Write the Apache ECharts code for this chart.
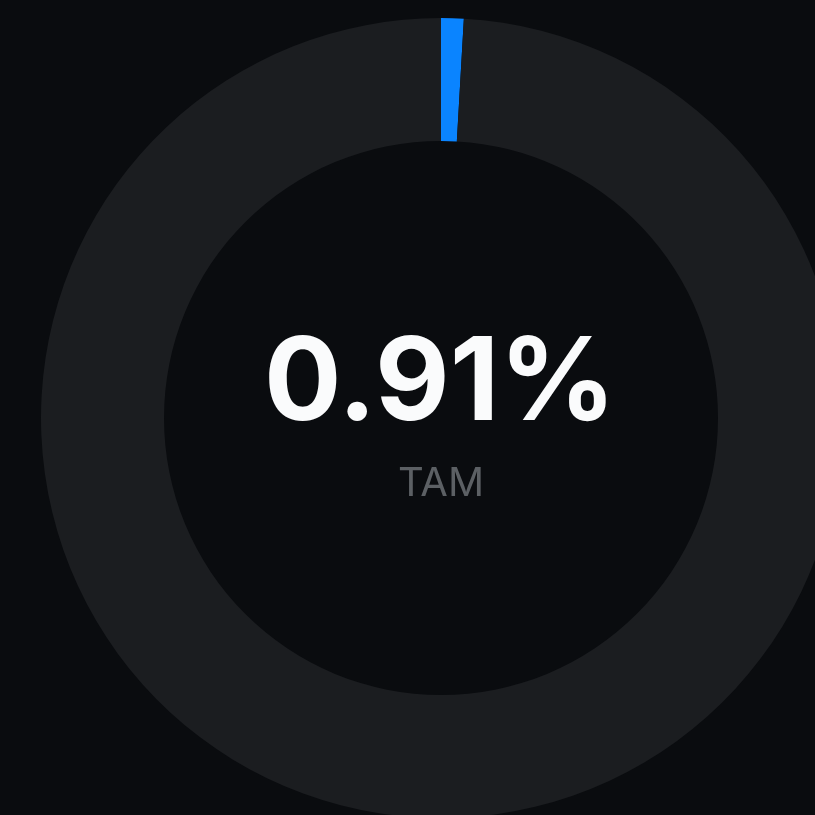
<!DOCTYPE html>
<html>
<head>
<meta charset="utf-8">
<script src="https://cdn.jsdelivr.net/npm/echarts@6/dist/echarts.min.js"></script>
<style>
  html, body { margin: 0; padding: 0; background: #0a0c0f; }
  #chart { width: 815px; height: 815px; }
</style>
</head>
<body>
<div id="chart"></div>
<script>
var categories = ['TAM', 'Rest'];
var values = [0.91, 99.09];
var colors = ['#0a84ff', '#1b1d20'];
var centerLabel = '0.91%';
var subLabel = 'TAM';

var myChart = echarts.init(document.getElementById('chart'));
var option = {
    backgroundColor: '#0a0c0f',
    animation: false,
    graphic: [
        {
            type: 'text',
            x: 440,
            y: 385,
            style: {
                text: centerLabel,
                fill: '#fafbfc',
                font: 'bold 115px Inter',
                align: 'center',
                verticalAlign: 'middle'
            }
        },
        {
            type: 'text',
            x: 441,
            y: 484,
            style: {
                text: subLabel,
                fill: '#5c6064',
                font: '40px Inter',
                align: 'center',
                verticalAlign: 'middle'
            }
        }
    ],
    series: [
        {
            type: 'pie',
            center: [441, 418],
            radius: [277, 400],
            startAngle: 90,
            clockwise: true,
            silent: true,
            label: { show: false },
            labelLine: { show: false },
            itemStyle: { borderWidth: 0 },
            data: categories.map(function (c, i) {
                return { name: c, value: values[i], itemStyle: { color: colors[i] } };
            })
        }
    ]
};
option && myChart.setOption(option);
</script>
</body>
</html>
